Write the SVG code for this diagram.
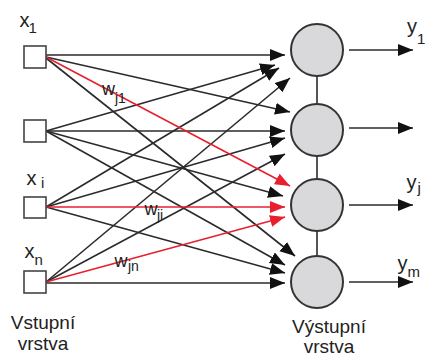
<svg xmlns="http://www.w3.org/2000/svg" width="427" height="358" viewBox="0 0 427 358">
<style>
text{font-family:"Liberation Sans",Arial,sans-serif;fill:#222}
.big{font-size:20px}
.sub{font-size:15px}
.w{font-size:18px}
.ws{font-size:14px}
.lbl{font-size:19px;text-anchor:middle}
.k{stroke:#2b2b2b;stroke-width:1.6;fill:none}
.r{stroke:#e8202e;stroke-width:1.6;fill:none}
.sq{fill:#fff;stroke:#444;stroke-width:1.6}
.ci{fill:#d9d9db;stroke:#333;stroke-width:2}
</style>
<defs>
<marker id="ak" markerUnits="userSpaceOnUse" markerWidth="16" markerHeight="13" refX="15" refY="6" orient="auto"><path d="M0,0 L15,6 L0,12 z" fill="#111"/></marker>
<marker id="ar" markerUnits="userSpaceOnUse" markerWidth="16" markerHeight="13" refX="15" refY="6" orient="auto"><path d="M0,0 L15,6 L0,12 z" fill="#e8202e"/></marker>
</defs>
<g id="connectors">
<line class="k" x1="46" y1="55" x2="285" y2="55" marker-end="url(#ak)"/>
<line class="k" x1="46" y1="131" x2="275" y2="65" marker-end="url(#ak)"/>
<line class="k" x1="46" y1="207" x2="279" y2="68" marker-end="url(#ak)"/>
<line class="k" x1="46" y1="282" x2="290" y2="78" marker-end="url(#ak)"/>
<line class="k" x1="46" y1="57" x2="290" y2="112" marker-end="url(#ak)"/>
<line class="k" x1="46" y1="131" x2="285" y2="131" marker-end="url(#ak)"/>
<line class="k" x1="46" y1="207" x2="285" y2="138" marker-end="url(#ak)"/>
<line class="k" x1="46" y1="282" x2="285" y2="154" marker-end="url(#ak)"/>
<line class="k" x1="46" y1="131" x2="283" y2="196" marker-end="url(#ak)"/>
<line class="k" x1="46" y1="58" x2="295" y2="256" marker-end="url(#ak)"/>
<line class="k" x1="46" y1="131" x2="285" y2="265" marker-end="url(#ak)"/>
<line class="k" x1="46" y1="207" x2="285" y2="273" marker-end="url(#ak)"/>
<line class="k" x1="46" y1="283" x2="285" y2="283" marker-end="url(#ak)"/>
<line class="r" x1="46" y1="57" x2="290" y2="186" marker-end="url(#ar)"/>
<line class="r" x1="46" y1="207" x2="285" y2="207" marker-end="url(#ar)"/>
<line class="r" x1="46" y1="282" x2="285" y2="217" marker-end="url(#ar)"/>
<line class="k" x1="317" y1="76" x2="317" y2="104"/>
<line class="k" x1="317" y1="156" x2="317" y2="179"/>
<line class="k" x1="317" y1="231" x2="317" y2="256"/>
<line class="k" x1="349" y1="50" x2="413" y2="50" marker-end="url(#ak)"/>
<line class="k" x1="349" y1="128" x2="413" y2="128" marker-end="url(#ak)"/>
<line class="k" x1="349" y1="205" x2="413" y2="205" marker-end="url(#ak)"/>
<line class="k" x1="349" y1="282" x2="413" y2="282" marker-end="url(#ak)"/>
</g>
<g id="in1"><rect class="sq" x="24" y="46" width="22" height="22"/><text class="big" x="19.5" y="27">x</text><text class="sub" x="28.5" y="33">1</text></g>
<g id="in2"><rect class="sq" x="24" y="120" width="22" height="22"/></g>
<g id="in3"><rect class="sq" x="24" y="197" width="22" height="21"/><text class="big" x="26.5" y="185">x</text><text class="sub" x="41" y="188">i</text></g>
<g id="in4"><rect class="sq" x="24" y="271" width="22" height="22"/><text class="big" x="24.5" y="258">x</text><text class="sub" x="34.5" y="265">n</text></g>
<g id="out1"><circle class="ci" cx="317" cy="50" r="26"/><text class="big" x="407" y="33">y</text><text class="sub" x="417" y="44">1</text></g>
<g id="out2"><circle class="ci" cx="317" cy="130" r="26"/></g>
<g id="out3"><circle class="ci" cx="317" cy="205" r="26"/><text class="big" x="406.5" y="189">y</text><text class="sub" x="417.5" y="193">j</text></g>
<g id="out4"><circle class="ci" cx="317" cy="282" r="26"/><text class="big" x="397.5" y="270">y</text><text class="sub" x="407.5" y="277">m</text></g>
<g id="weights">
<text class="w" x="102" y="95">w</text><text class="ws" x="115" y="103">j1</text>
<text class="w" x="144.5" y="215">w</text><text class="ws" x="157" y="220">ji</text>
<text class="w" x="114.5" y="267">w</text><text class="ws" x="128" y="271">jn</text>
</g>
<g id="labels">
<text class="lbl" x="43" y="329">Vstupní</text><text class="lbl" x="43" y="350">vrstva</text>
<text class="lbl" x="329" y="333">Výstupní</text><text class="lbl" x="329" y="353">vrstva</text>
</g>
</svg>
